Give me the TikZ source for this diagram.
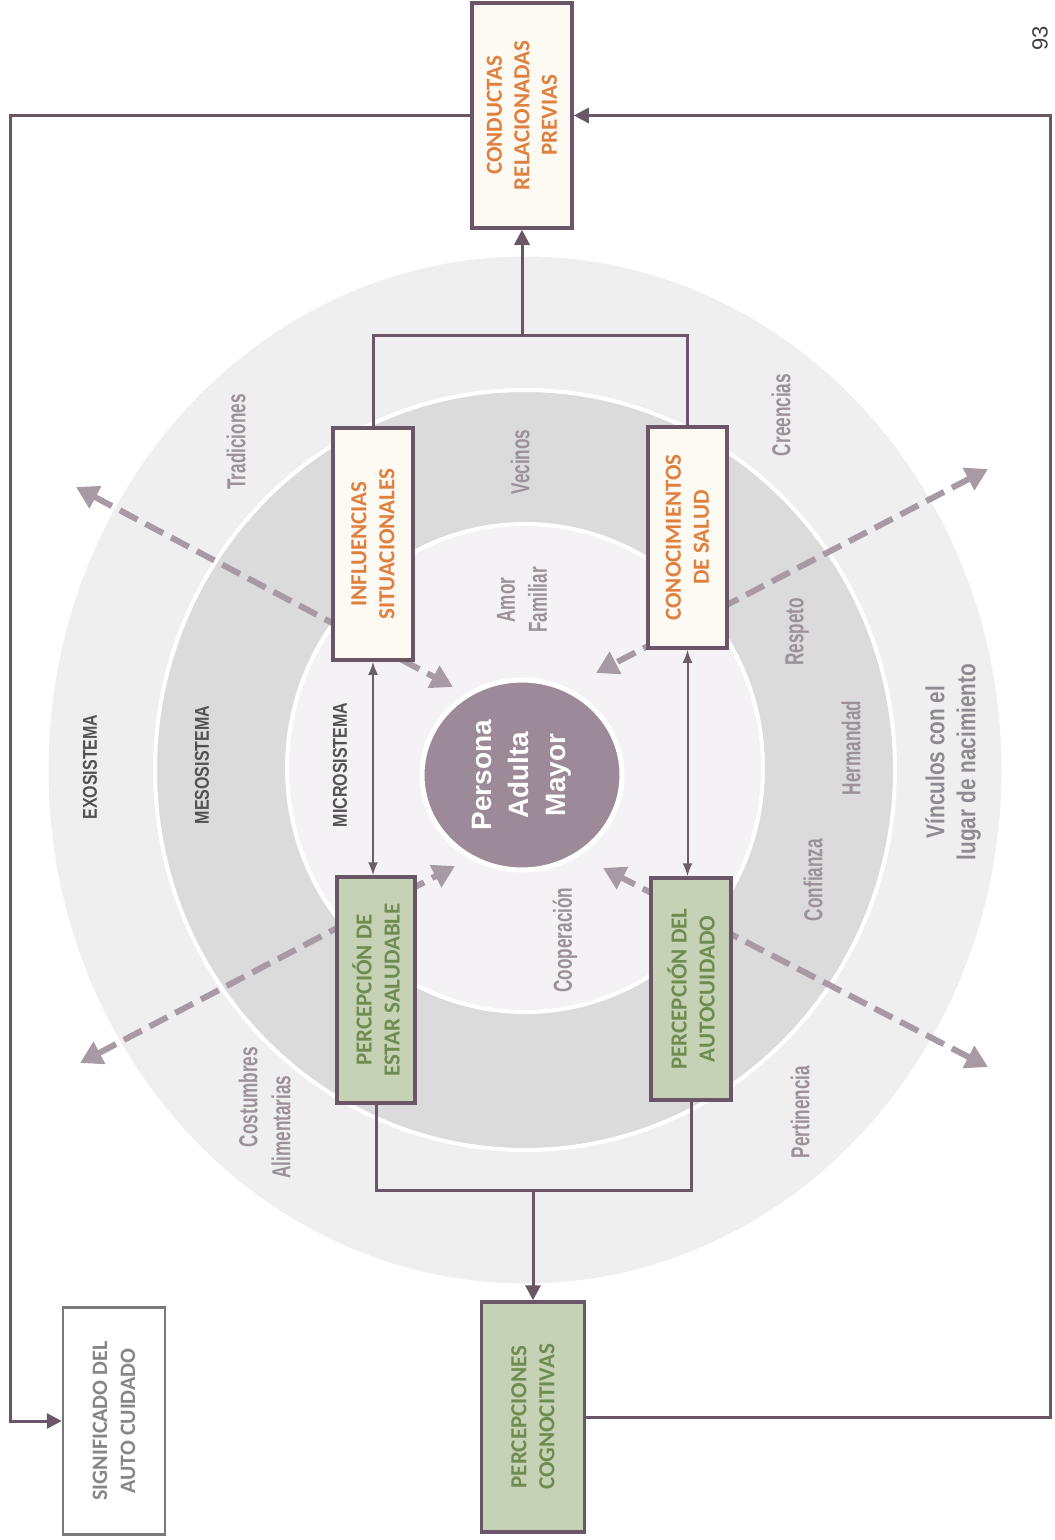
\documentclass[tikz,border=0pt]{standalone}
\usepackage{fontspec}
\setmainfont{Carlito}
\newfontfamily\condf[FakeStretch=0.66]{Liberation Sans}
\newfontfamily\condv[FakeStretch=0.8]{Liberation Sans}
\newfontfamily\sysf[FakeStretch=0.8]{Liberation Sans}
\newfontfamily\pamf{Liberation Sans}
\usetikzlibrary{arrows.meta}
\definecolor{boxc}{HTML}{6A5666}
\definecolor{orangetxt}{HTML}{E0803F}
\definecolor{greentxt}{HTML}{6F8C50}
\definecolor{greenfill}{HTML}{C6D2B6}
\definecolor{creamfill}{HTML}{FDF9F3}
\definecolor{lblc}{HTML}{9C909B}
\definecolor{vincc}{HTML}{8F8A92}
\definecolor{dashc}{HTML}{A89AA4}
\definecolor{sysc}{HTML}{525252}
\definecolor{exoc}{HTML}{EFEFEF}
\definecolor{mesoc}{HTML}{DCDBDC}
\definecolor{microc}{HTML}{F4F2F4}
\definecolor{pamc}{HTML}{9D8A98}
\definecolor{sigc}{HTML}{868686}
\begin{document}
\begin{tikzpicture}[x=1pt,y=-1pt,
  box/.style={draw=boxc, line width=3.5pt, rotate=90, align=center, inner sep=0pt,
    font=\fontsize{23}{28}\selectfont\bfseries},
  orbox/.style={box, fill=creamfill, text=orangetxt},
  grbox/.style={box, fill=greenfill, text=greentxt},
  conn/.style={draw=boxc, line width=3pt},
  tip/.style={-{Triangle[length=15pt,width=15pt]}},
  dbl/.style={draw=boxc!85!gray, line width=2pt, {Latex[length=13pt,width=10pt]}-{Latex[length=13pt,width=10pt]}},
  dsh/.style={draw=dashc, line width=6pt, dash pattern=on 20pt off 9pt,
    {Triangle[length=22pt,width=24pt]}-{Triangle[length=22pt,width=24pt]}},
  lbl/.style={rotate=90, text=lblc, align=center, font=\condf\bfseries\fontsize{26}{32}\selectfont},
  sys/.style={rotate=90, text=sysc, font=\sysf\bfseries\fontsize{20}{24}\selectfont},
]
\useasboundingbox (0,0) rectangle (1055,1540);
\fill[white] (0,0) rectangle (1055,1540);

% rings
\filldraw[fill=exoc, draw=white, line width=3pt] (525,770) ellipse [x radius=478pt, y radius=515pt];
\filldraw[fill=mesoc, draw=white, line width=4pt] (525,770) ellipse [x radius=370pt, y radius=380pt];
\filldraw[fill=microc, draw=white, line width=4pt] (525,768) ellipse [x radius=238pt, y radius=244pt];

% dashed arrows
\coordinate (d1o) at (76,487);   \coordinate (d1i) at (453,687);
\coordinate (d2o) at (988,469);  \coordinate (d2i) at (596,673);
\coordinate (d3o) at (80,1063);  \coordinate (d3i) at (455,866);
\coordinate (d4o) at (988,1067); \coordinate (d4i) at (603,868);
\draw[dsh] (d1o) -- (d1i);
\draw[dsh] (d2o) -- (d2i);
\draw[dsh] (d3o) -- (d3i);
\draw[dsh] (d4o) -- (d4i);

% centre
\filldraw[fill=pamc, draw=white, line width=5pt] (522,775) ellipse [x radius=100pt, y radius=95pt];
\node[rotate=90, text=white, align=center, font=\pamf\bfseries\fontsize{28}{37}\selectfont] (pam) at (522,775) {Persona\\Adulta\\Mayor};

% boxes
\node[orbox, minimum width=225pt, minimum height=100pt, font=\fontsize{23}{27.5}\selectfont\bfseries] (cond) at (522,115.5) {CONDUCTAS\\RELACIONADAS\\PREVIAS};
\node[box, draw=sigc!90!black, line width=2.5pt, fill=white, text=sigc, minimum width=227pt, minimum height=102pt, font=\fontsize{22}{28}\selectfont\bfseries] (sig) at (114,1421) {SIGNIFICADO DEL\\AUTO CUIDADO};
\node[grbox, minimum width=230pt, minimum height=103pt] (pcog) at (533,1417) {PERCEPCIONES\\COGNOCITIVAS};
\node[orbox, minimum width=232pt, minimum height=80pt] (inf) at (373,544) {INFLUENCIAS\\SITUACIONALES};
\node[orbox, minimum width=221pt, minimum height=79pt] (con) at (687.5,537.5) {CONOCIMIENTOS\\DE SALUD};
\node[grbox, minimum width=226pt, minimum height=78pt] (pes) at (376,990) {PERCEPCIÓN DE\\ESTAR SALUDABLE};
\node[grbox, minimum width=222pt, minimum height=80pt] (pau) at (691,989) {PERCEPCIÓN DEL\\AUTOCUIDADO};

% connectors
\coordinate (tb) at (cond.west |- 0,335);
\draw[conn] (inf.east) |- (tb) -| (con.east);
\draw[conn,tip] (tb) -- (cond.west);
\coordinate (bb) at (pcog.east |- 0,1190);
\draw[conn] (pes.west) |- (bb) -| (pau.west);
\draw[conn,tip] (bb) -- (pcog.east);
\coordinate (lc1) at (10,0 |- cond.north);
\coordinate (lc2) at (10,0 |- sig.north);
\draw[conn,tip] (cond.north) -- (lc1) -- (lc2) -- (sig.north);
\coordinate (rc1) at (1050,0 |- pcog.south);
\coordinate (rc2) at (1050,0 |- cond.south);
\draw[conn,tip] (pcog.south) -- (rc1) -- (rc2) -- (cond.south);
\draw[dbl] (inf.west) -- (inf.west |- pes.east);
\draw[dbl] (con.west) -- (con.west |- pau.east);

% system labels
\node[sys] (exo) at (90,767) {EXOSISTEMA};
\node[sys] (meso) at (202,765) {MESOSISTEMA};
\node[sys] (micro) at (340,765) {MICROSISTEMA};

% value labels
\node[lbl] (trad) at (236,442) {Tradiciones};
\node[lbl] (cost) at (248,1097) {Costumbres};
\node[lbl] (alim) at (281,1127) {Alimentarias};
\node[lbl] (vec) at (520,462) {Vecinos};
\node[lbl] (amor) at (522,600) {Amor\\Familiar};
\node[lbl] (coop) at (565,940) {Cooperación};
\node[lbl] (cree) at (781,415) {Creencias};
\node[lbl] (resp) at (797,632) {Respeto};
\node[lbl] (herm) at (851,748) {Hermandad};
\node[lbl] (conf) at (813,880) {Confianza};
\node[lbl] (pert) at (800,1112) {Pertinencia};
\node[lbl, text=vincc, font=\condv\bfseries\fontsize{26}{31}\selectfont] (vinc) at (953,762) {Vínculos con el\\lugar de nacimiento};

\node[rotate=90, text=black!75, font=\pamf\fontsize{22}{26}\selectfont] (pg) at (1040,38) {93};
\end{tikzpicture}
\end{document}
